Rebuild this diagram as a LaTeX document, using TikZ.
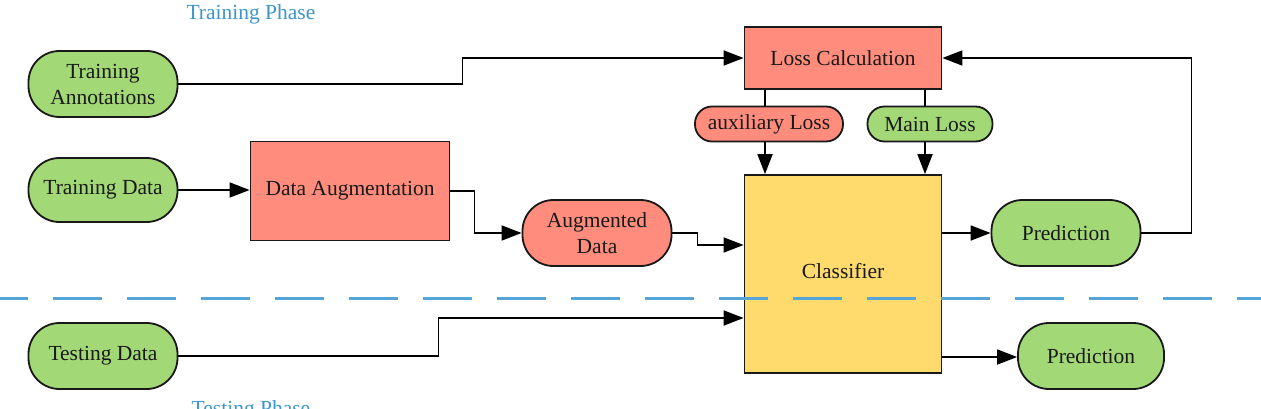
\documentclass[tikz,border=0pt]{standalone}
\usepackage{fontspec}
\setmainfont{Liberation Serif}
\usetikzlibrary{arrows.meta,calc}
\definecolor{gfill}{HTML}{A3D877}
\definecolor{rfill}{HTML}{FF8C7C}
\definecolor{yfill}{HTML}{FFDB6E}
\definecolor{phaseblue}{HTML}{3D95CC}
\definecolor{dashblue}{HTML}{55A5D8}
\begin{document}
\begin{tikzpicture}[x=1pt,y=-1pt,
  base/.style={draw=black!90, line width=1.8pt, inner sep=0pt, align=center,
    font=\fontsize{21.5}{26}\selectfont, text=black!90},
  gpill/.style={base, fill=gfill, rounded corners=31pt},
  rpill/.style={base, fill=rfill, rounded corners=31pt},
  spill/.style={base, rounded corners=17pt, minimum height=35pt},
  rbox/.style={base, fill=rfill},
  ybox/.style={base, fill=yfill},
  arr/.style={draw=black, line width=1.8pt, -{Triangle[length=20pt,width=15pt]}},
  ln/.style={draw=black, line width=1.8pt},
  phase/.style={text=phaseblue, font=\fontsize{21.5}{26}\selectfont}]
\fill[white] (0,0) rectangle (1261,409);
\useasboundingbox (0,0) rectangle (1261,409);

\node[phase, anchor=base] (trp) at (251,20) {Training Phase};
\node[phase, anchor=base] (tsp) at (251,415) {Testing Phase};

\node[gpill, minimum width=149pt, minimum height=66pt] (ta) at (103,84) {Training\\Annotations};
\node[gpill, minimum width=149pt, minimum height=64pt] (td) at (103,190) {Training Data};
\node[gpill, minimum width=149pt, minimum height=66pt] (test) at (103,356) {Testing Data};
\node[rbox, minimum width=199pt, minimum height=99pt] (da) at (350,191) {Data Augmentation};
\node[rpill, minimum width=149pt, minimum height=66pt] (aug) at (597,233) {Augmented\\Data};
\node[rbox, minimum width=197pt, minimum height=62pt] (loss) at (843,58) {Loss Calculation};
\node[spill, fill=rfill, minimum width=148pt] (aux) at (769,124) {auxiliary Loss};
\node[spill, fill=gfill, minimum width=125pt] (main) at (930,124) {Main Loss};
\node[ybox, minimum width=197pt, minimum height=198pt] (cls) at (843,274) {};
\node[base, draw=none, fill=none] (clst) at (843,271) {Classifier};
\node[gpill, minimum width=149pt, minimum height=66pt] (pred) at (1066,233) {Prediction};
\node[gpill, minimum width=146pt, minimum height=66pt] (pred2) at (1091,356) {Prediction};

\coordinate (clsin1) at (cls.west |- 0,245);
\coordinate (clsin2) at (cls.west |- 0,318);
\coordinate (auxx) at ([xshift=-4pt]aux.north);
\coordinate (auxb) at ([xshift=-4pt]aux.south);
\coordinate (mainx) at ([xshift=-5pt]main.north);
\coordinate (mainb) at ([xshift=-5pt]main.south);

\draw[arr] (ta.east) -- ++(284,0) |- (loss.west);
\draw[arr] (td.east) -- (td.east -| da.west);
\draw[arr] (da.east) -- ++(24,0) |- (aug.west);
\draw[arr] (aug.east) -- ++(25,0) |- (clsin1);
\draw[ln] (auxx |- loss.south) -- (auxx);
\draw[arr] (auxb) -- (auxb |- cls.north);
\draw[ln] (mainx |- loss.south) -- (mainx);
\draw[arr] (mainb) -- (mainb |- cls.north);
\draw[arr] (cls.east |- pred.west) -- (pred.west);
\draw[arr] (pred.east) -- ++(50,0) |- (loss.east);
\draw[arr] (test.east) -- ++(260,0) |- (clsin2);
\draw[arr] (cls.east |- 0,357) -- (pred2.west |- 0,357);

\draw[dashblue, line width=3pt, dash pattern=on 49pt off 25pt, dash phase=21pt] (0,298) -- (1261,298);
\end{tikzpicture}
\end{document}
